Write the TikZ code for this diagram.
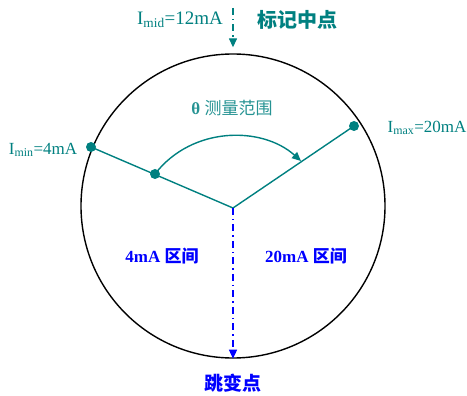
\documentclass[tikz,border=0pt]{standalone}
\usepackage{fontspec}
\setmainfont{Liberation Serif}
\newfontfamily\cjk{Noto Sans CJK SC}
\usetikzlibrary{arrows.meta}
\definecolor{meter}{RGB}{0,128,128}
\definecolor{jump}{RGB}{0,0,255}

\begin{document}
\begin{tikzpicture}[
  x=1pt, y=-1pt,
  dot/.style={circle, fill=meter, inner sep=0pt, minimum size=10pt},
  ptr/.style={meter, line width=1.4pt},
  mlabel/.style={text=meter, font=\fontsize{17}{20}\selectfont},
  zone/.style={text=jump, font=\fontsize{17}{20}\selectfont\bfseries},
  arrow/.style={-{Triangle[length=9pt,width=8pt]}},
  dashdot/.style={dash pattern=on 7pt off 4pt on 1.5pt off 4pt, line width=1.4pt}
]
\useasboundingbox (0,0) rectangle (467,396);

\node[draw, circle, line width=1.4pt, minimum size=304pt, inner sep=0pt] (dial) at (233,206) {};
\coordinate (pivot) at (233,208);
\coordinate (midtop) at (233,8);
\coordinate (sweep) at (301,161);
\node[dot] (min) at (91,147) {};
\node[dot] (max) at (354,126) {};
\node[dot] (start) at (155,174) {};

% pointer and range
\draw[ptr] (min.center) -- (pivot) -- (max.center);
\draw[ptr, arrow] (start.center) .. controls (192,126) and (262,126) .. (sweep);
\draw[meter, dashdot, arrow, shorten >=6pt] (midtop) -- (dial.north);
\draw[jump, dashdot, arrow] (pivot) -- (dial.south);

% labels
\node[mlabel, font=\fontsize{19}{22}\selectfont] (imid) at (180,20) {I\textsubscript{mid}=12mA};
\node[mlabel, font=\fontsize{20}{24}\selectfont\cjk\bfseries] (mark) at (297,20) {标记中点};
\node[mlabel] (imin) at (43,150) {I\textsubscript{min}=4mA};
\node[mlabel] (imax) at (427,128) {I\textsubscript{max}=20mA};
\node[mlabel, text=meter!85] (theta) at (232,108) {\textbf{θ} {\cjk 测量范围}};
\node[zone] (low) at (162,256) {4mA {\cjk 区间}};
\node[zone] (high) at (306,256) {20mA {\cjk 区间}};
\node[zone, font=\fontsize{19}{22}\selectfont\bfseries] (jumppt) at (233,383) {\cjk 跳变点};

\end{tikzpicture}
\end{document}
